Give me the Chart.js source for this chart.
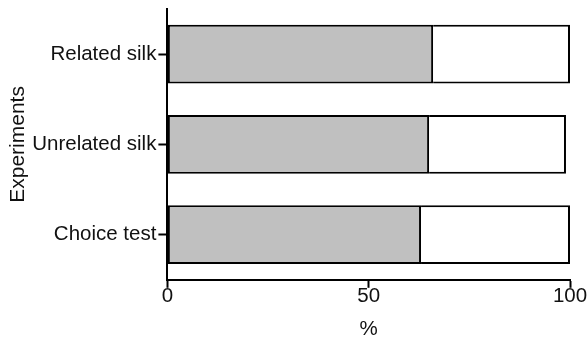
<!DOCTYPE html>
<html>
<head>
<meta charset="utf-8">
<script src="https://cdn.jsdelivr.net/npm/chart.js@4"></script>
<style>
html,body{margin:0;padding:0;background:#fff;overflow:hidden;}
#wrap{width:588px;height:340px;position:relative;}
</style>
</head>
<body>
<div id="wrap"><canvas id="c" width="588" height="340"></canvas></div>
<script>
const categories = ['Related silk', 'Unrelated silk', 'Choice test'];
const grayValues = [66, 65, 63];
const whiteValues = [34, 34, 37];
const xTicks = [0, 50, 100];

const FONT = 'Liberation Sans, Arial, Helvetica, sans-serif';
Chart.defaults.font.family = FONT;
Chart.defaults.color = '#111';

new Chart(document.getElementById('c'), {
  type: 'bar',
  data: {
    labels: categories,
    datasets: [
      {
        data: grayValues,
        backgroundColor: '#c0c0c0',
        borderColor: '#000',
        borderWidth: 2,
        borderSkipped: false,
        categoryPercentage: 1,
        barPercentage: 0.65
      },
      {
        data: whiteValues,
        backgroundColor: '#ffffff',
        borderColor: '#000',
        borderWidth: { left: 0, top: 2, right: 2, bottom: 2 },
        borderSkipped: false,
        categoryPercentage: 1,
        barPercentage: 0.65
      }
    ]
  },
  options: {
    indexAxis: 'y',
    responsive: false,
    animation: false,
    layout: { padding: { left: 2, right: 18, top: 9, bottom: 0 } },
    plugins: { legend: { display: false }, tooltip: { enabled: false } },
    scales: {
      x: {
        stacked: true,
        min: 0,
        max: 100,
        afterBuildTicks: (s) => { s.ticks = xTicks.map(v => ({ value: v })); },
        grid: { drawOnChartArea: false, drawTicks: true, tickLength: 8, tickWidth: 2, tickColor: '#000' },
        border: { display: true, color: '#000', width: 2 },
        ticks: { font: { size: 20.5 }, color: '#111', padding: -4, maxRotation: 0 },
        title: { display: true, text: '%', font: { size: 20.5 }, color: '#111', padding: { top: 13, bottom: -2 } }
      },
      y: {
        stacked: true,
        afterFit: (s) => { s.paddingTop = 0; s.paddingBottom = 0; },
        grid: { offset: false, drawOnChartArea: false, drawTicks: true, tickLength: 9, tickWidth: 2, tickColor: '#000' },
        border: { display: true, color: '#000', width: 2 },
        ticks: { font: { size: 20.5 }, color: '#111', padding: 2 },
        title: { display: true, text: 'Experiments', font: { size: 21 }, color: '#111', padding: { top: 4, bottom: -1 } }
      }
    }
  }
});
</script>
</body>
</html>
